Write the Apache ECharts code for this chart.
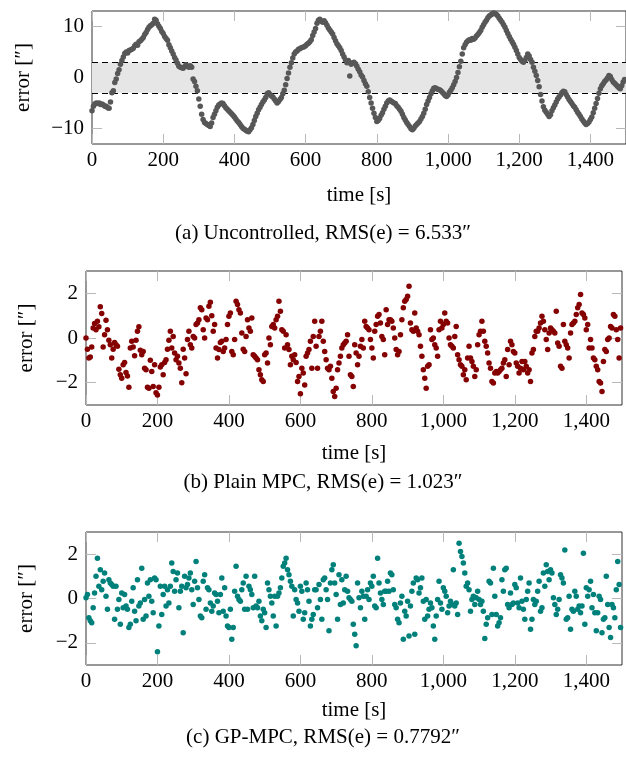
<!DOCTYPE html>
<html>
<head>
<meta charset="utf-8">
<script src="https://cdn.jsdelivr.net/npm/echarts@6/dist/echarts.min.js"></script>
<style>
  html, body { margin: 0; padding: 0; background: #fff; }
  #chart { width: 626px; height: 762px; }
</style>
</head>
<body>
<div id="chart"></div>
<script>
  // sample times [s], shared by the three runs
  const timeS = [
    0,4,8,12,16,20,24,28,32,36,40,44,48,52,56,60,64,68,72,76,
    80,84,88,92,96,100,104,108,112,116,120,124,128,132,136,140,144,148,152,156,
    160,164,168,172,176,180,184,188,192,196,200,204,208,212,216,220,224,228,232,236,
    240,244,248,252,256,260,264,268,272,276,280,284,288,292,296,300,304,308,312,316,
    320,324,328,332,336,340,344,348,352,356,360,364,368,372,376,380,384,388,392,396,
    400,404,408,412,416,420,424,428,432,436,440,444,448,452,456,460,464,468,472,476,
    480,484,488,492,496,500,504,508,512,516,520,524,528,532,536,540,544,548,552,556,
    560,564,568,572,576,580,584,588,592,596,600,604,608,612,616,620,624,628,632,636,
    640,644,648,652,656,660,664,668,672,676,680,684,688,692,696,700,704,708,712,716,
    720,724,728,732,736,740,744,748,752,756,760,764,768,772,776,780,784,788,792,796,
    800,804,808,812,816,820,824,828,832,836,840,844,848,852,856,860,864,868,872,876,
    880,884,888,892,896,900,904,908,912,916,920,924,928,932,936,940,944,948,952,956,
    960,964,968,972,976,980,984,988,992,996,1000,1004,1008,1012,1016,1020,1024,1028,1032,1036,
    1040,1044,1048,1052,1056,1060,1064,1068,1072,1076,1080,1084,1088,1092,1096,1100,1104,1108,1112,1116,
    1120,1124,1128,1132,1136,1140,1144,1148,1152,1156,1160,1164,1168,1172,1176,1180,1184,1188,1192,1196,
    1200,1204,1208,1212,1216,1220,1224,1228,1232,1236,1240,1244,1248,1252,1256,1260,1264,1268,1272,1276,
    1280,1284,1288,1292,1296,1300,1304,1308,1312,1316,1320,1324,1328,1332,1336,1340,1344,1348,1352,1356,
    1360,1364,1368,1372,1376,1380,1384,1388,1392,1396,1400,1404,1408,1412,1416,1420,1424,1428,1432,1436,
    1440,1444,1448,1452,1456,1460,1464,1468,1472,1476,1480,1484,1488,1492,1496
  ];

  // (a) uncontrolled error ["]
  const errUncontrolled = [
    -6.5,-5.6,-5.2,-5.0,-5.1,-5.0,-5.3,-5.2,-5.4,-5.6,
    -5.6,-5.9,-6.0,-4.8,-3.0,-2.6,-1.0,-0.3,0.8,1.5,
    2.6,3.3,4.0,4.7,5.0,4.8,5.3,5.4,5.5,5.7,
    6.2,6.5,6.3,7.0,7.2,7.5,7.8,8.4,8.8,9.4,
    9.8,10.1,10.3,10.6,11.4,11.2,10.5,10.0,9.6,9.0,
    8.6,8.0,7.6,7.3,6.4,5.8,5.2,4.6,3.9,3.4,
    2.8,2.2,2.0,1.9,1.8,2.1,2.5,2.2,2.0,2.3,
    2.0,-0.3,-0.8,-1.7,-2.6,-4.2,-5.6,-7.2,-8.2,-8.8,
    -9.0,-9.2,-9.4,-9.6,-8.9,-7.8,-7.2,-6.5,-5.8,-5.4,
    -5.2,-5.0,-5.1,-5.5,-5.9,-6.2,-6.5,-6.8,-7.1,-7.4,
    -7.7,-8.1,-8.5,-8.8,-9.2,-9.6,-9.9,-10.1,-10.3,-10.5,
    -10.6,-10.2,-9.8,-9.2,-8.4,-7.6,-7.0,-6.3,-5.8,-5.3,
    -4.8,-4.4,-3.9,-3.2,-3.0,-3.3,-3.6,-3.8,-4.2,-4.6,
    -5.0,-4.7,-4.3,-3.9,-3.2,-2.5,-1.4,-0.2,0.9,2.0,
    2.9,3.8,4.6,5.0,5.2,5.5,5.6,5.8,5.9,6.0,
    6.2,6.5,6.7,7.0,7.4,8.2,8.9,9.6,10.6,11.2,
    11.4,11.0,10.8,11.1,10.7,10.2,9.7,9.3,8.9,8.5,
    7.8,7.2,6.6,6.2,5.8,5.3,4.6,4.0,3.4,2.9,
    3.3,0.3,2.6,2.9,3.0,2.7,2.2,1.6,1.1,0.5,
    0.1,-0.6,-1.2,-1.7,-2.8,-3.9,-5.0,-6.0,-7.0,-7.8,
    -8.6,-8.4,-8.0,-7.4,-6.9,-6.2,-5.6,-5.0,-4.6,-4.4,
    -4.6,-4.8,-5.0,-5.1,-5.5,-5.8,-6.2,-6.6,-7.2,-7.8,
    -8.3,-8.8,-9.2,-9.6,-10.0,-10.2,-9.9,-9.5,-9.2,-8.9,
    -8.6,-8.1,-7.6,-7.0,-6.2,-5.3,-4.6,-3.9,-3.2,-2.6,
    -2.1,-2.0,-2.2,-2.3,-2.4,-2.6,-2.9,-3.2,-3.5,-3.7,
    -3.4,-2.9,-2.5,-2.0,-1.4,-0.8,0.0,1.0,2.1,3.2,
    4.6,5.8,6.4,6.9,7.2,7.4,7.3,7.6,7.5,7.7,
    8.1,8.4,8.8,9.2,9.8,10.3,10.8,11.2,11.7,12.0,
    12.2,12.4,12.6,12.5,12.3,12.0,11.6,11.2,10.8,10.3,
    9.8,9.2,8.6,8.0,7.5,7.0,6.5,5.9,5.3,4.6,
    3.9,3.5,3.2,3.0,3.3,3.9,4.6,4.2,3.5,3.0,
    2.0,1.2,0.4,-0.6,-1.8,-3.3,-4.6,-5.7,-6.4,-6.8,
    -7.2,-7.6,-7.3,-6.5,-5.9,-5.4,-4.8,-4.2,-3.8,-3.4,
    -3.0,-2.7,-2.8,-3.3,-3.8,-4.3,-4.7,-5.1,-5.5,-5.8,
    -6.3,-6.8,-7.2,-7.6,-8.1,-8.5,-8.9,-9.2,-9.0,-8.7,
    -8.2,-7.7,-6.9,-6.0,-5.1,-4.1,-3.1,-2.2,-1.6,-1.2,
    -0.8,-0.5,-0.1,0.4,0.2,-0.4,-0.9,-1.1,-1.4,-1.7,
    -2.0,-2.2,-1.6,-0.9,-0.4
  ];

  // (b) plain MPC error ["]
  const errPlainMpc = [
    0.0,-0.5,-0.9,-0.85,-0.4,0.45,0.65,
    0.37,0.75,0.5,1.4,1.1,-0.4,0.15,
    0.8,0.37,-0.1,-0.3,-0.9,-0.5,-0.2,
    -0.3,-0.37,-1.4,-1.65,-1.8,-1.2,-1.1,
    -1.55,-1.7,-2.2,-0.45,-0.15,-0.4,-0.8,
    -0.1,0.3,0.5,-0.55,-0.75,-0.6,-1.35,
    -1.42,-2.2,-2.25,-1.0,-1.5,-2.17,-1.2,
    -2.45,-2.55,-2.2,-1.3,-1.2,-1.65,-1.1,
    -0.97,-0.5,-0.1,0.3,-0.45,0.07,-0.67,
    -0.97,-0.82,-1.12,-1.35,-2.0,-0.5,-0.9,
    -1.6,-0.07,0.3,-0.3,-0.45,0.07,0.0,
    0.6,0.67,0.82,1.35,1.27,0.37,0.0,
    0.9,0.82,1.42,1.6,1.0,0.3,0.6,
    -0.45,-0.9,-0.52,-0.2,-0.15,-0.6,-0.45,
    -0.07,0.6,0.97,1.12,-0.6,-0.75,-0.07,
    1.65,1.5,1.27,1.12,0.22,-0.5,-0.6,
    0.07,0.82,0.45,0.3,0.9,-0.75,-0.82,
    -0.9,-0.97,-1.42,-1.65,-1.87,-1.95,-0.75,
    -0.67,-1.12,0.0,-0.3,0.52,0.6,0.45,
    0.82,0.97,1.65,1.2,0.37,0.3,-0.45,
    0.15,-0.3,-0.52,-1.2,-0.82,-0.97,-0.75,
    -1.1,-1.95,-1.72,-2.5,-1.35,-1.57,-2.1,
    -0.82,-0.67,-0.52,-0.15,-1.35,0.07,0.75,
    -0.37,-1.35,0.07,0.3,0.75,-0.15,
    -0.6,-0.97,-1.35,-1.42,-1.27,-1.8,-2.4,-2.62,-2.25,
    -1.42,-1.12,-0.82,-0.45,-0.3,-0.22,-0.15,0.15,-0.82,
    -1.65,-1.72,-2.17,-0.3,-0.67,-1.2,-0.82,-0.37,-0.07,-0.45,
    0.75,0.52,0.45,0.37,-0.07,-0.45,-0.9,0.3,0.6,
    0.97,1.05,0.67,0.07,-0.07,-0.75,1.27,0.6,0.82,
    0.82,0.75,0.45,0.0,-0.52,-0.75,-0.6,0.15,0.82,
    1.35,1.65,1.72,1.87,2.32,0.67,0.37,0.3,1.12,0.45,
    0.3,0.15,-0.37,-0.82,-1.42,-1.8,-2.25,-1.27,-1.2,
    0.37,-0.07,0.0,-0.3,-0.45,-0.82,0.37,0.75,0.45,0.6,
    1.12,0.75,0.67,0.0,-0.3,-0.37,-0.45,0.07,0.52,
    -0.75,-0.97,-1.2,-1.27,-1.65,-1.42,-1.87,-0.9,-0.37,
    -0.9,-1.05,-1.27,-1.72,-1.42,-0.3,0.15,0.3,0.75,0.3,
    -0.15,-0.37,-0.67,-1.12,-1.35,-1.95,-2.02,-1.57,-1.5,
    -1.57,-1.5,-1.42,-1.35,-1.12,-0.97,-1.72,-0.52,-1.2,
    -0.15,-0.3,-0.6,-0.67,-1.12,-1.27,-1.57,-1.35,-1.05,-1.42,
    -1.05,-1.27,-1.57,-1.42,-1.95,-0.67,-0.52,0.07,0.3,
    0.3,0.45,0.67,0.97,0.75,0.37,-0.07,-0.52,0.22,
    0.45,0.37,0.3,0.22,1.2,-0.22,-0.37,-1.27,-1.35,0.6,
    -0.15,-0.3,-0.45,-0.9,0.22,0.6,0.67,0.75,1.05,
    1.35,1.5,1.95,1.12,1.05,0.9,0.37,0.6,-0.45,
    -0.07,-0.45,-0.9,-0.97,-1.27,-1.42,-1.95,-2.02,-2.4,-1.05,
    -0.52,-0.6,-0.07,0.0,0.52,0.45,1.05,0.97,0.37,-0.07,-0.9,0.45
  ];

  // (c) GP-MPC error ["]
  const errGpMpc = [
    0.03,0.18,-0.87,-1.0,-1.09,-0.42,0.25,
    1.0,1.82,0.55,1.3,0.4,0.78,1.15,
    0.1,-0.49,0.85,0.7,0.63,0.55,-0.94,
    0.55,-0.49,-0.05,-1.16,0.25,-0.42,0.18,
    -0.34,-0.49,-1.31,-1.16,-0.12,0.48,-0.57,
    -1.0,0.85,-0.34,-0.2,1.37,-0.94,-0.05,
    -0.79,0.7,0.1,0.85,-0.12,-0.64,0.93,
    0.85,-2.4,-1.24,0.55,-0.72,0.18,0.55,
    -0.34,0.4,-0.2,0.55,1.6,1.22,0.33,
    0.85,1.15,-0.42,0.33,0.55,-1.54,1.0,
    0.48,0.63,0.93,1.15,0.4,-0.27,0.78,
    1.67,0.48,-0.05,-0.79,-0.87,0.78,1.07,
    -0.49,0.48,0.4,-0.2,-0.57,-0.34,0.25,
    0.18,-0.12,-0.64,0.18,0.93,-0.57,0.48,
    -0.79,-1.24,-1.31,-0.49,-1.84,-1.31,0.33,
    1.45,0.1,-0.05,-0.12,0.4,0.7,-0.49,
    1.0,-0.49,0.55,0.4,0.18,-0.42,1.0,
    -0.34,-0.42,-0.12,-0.79,-1.0,-0.49,-0.64,
    -1.31,0.7,0.4,0.1,-0.2,-0.79,0.1,
    -1.24,0.1,0.25,0.48,0.93,1.45,1.6,
    1.82,1.3,1.07,0.78,0.55,-0.79,0.4,
    -0.05,-0.2,-0.57,0.55,0.33,-0.94,-0.64,
    0.7,0.4,-0.12,-1.24,-0.94,-0.72,0.4,
    0.4,-0.42,0.63,-0.05,-0.94,0.85,
    0.93,0.4,-0.05,-1.46,0.7,1.3,1.52,0.7,0.18,
    -0.94,1.07,-0.27,0.85,-0.2,0.4,1.0,0.33,0.03,
    -0.05,-0.12,-1.16,-1.61,-2.13,0.7,0.03,-0.42,0.33,0.1,
    -0.94,0.1,0.4,-0.05,0.7,0.55,1.0,-0.34,-0.42,
    1.82,0.7,0.25,-0.05,-0.27,0.33,0.33,0.78,0.33,
    1.15,1.07,0.4,-0.27,-0.42,-0.94,-1.09,-0.2,0.1,
    -1.84,-0.57,-0.79,-0.12,-1.69,-0.34,0.33,0.7,-1.61,0.93,
    0.85,0.25,0.48,0.93,-0.12,-0.94,-0.05,-0.79,-0.49,
    -0.2,-0.42,-1.24,-1.84,-0.79,-0.05,0.78,-0.2,-0.49,0.48,
    0.33,0.1,-0.64,-0.34,-0.12,-0.27,1.3,-0.34,-0.2,
    -0.72,2.49,2.12,1.9,1.6,1.15,0.55,0.7,0.4,
    -0.57,-0.05,0.1,-0.27,0.03,0.33,-0.05,-0.27,-0.12,-0.57,
    -1.8,-1.16,-0.87,0.78,0.7,-0.72,1.37,0.1,-0.72,
    -1.24,-1.09,-0.87,0.85,0.33,1.3,1.37,-0.27,-0.42,
    0.25,-0.27,-0.2,0.63,0.48,-0.2,-0.42,0.93,-0.12,-0.49,
    -0.94,-0.05,0.33,0.7,-1.39,-0.94,-0.05,-0.27,-0.12,
    0.33,0.78,-0.57,-0.42,1.15,0.55,1.52,1.22,0.85,
    1.3,1.15,0.03,-0.27,-0.72,-0.49,-0.05,1.07,0.93,0.7,
    2.19,-0.94,-0.87,0.1,-1.39,-0.49,-0.57,0.33,0.1,
    -0.49,-0.34,-0.64,-0.34,2.04,-1.16,0.48,0.1,0.4,
    0.78,-0.42,0.18,-0.64,-1.46,-0.64,0.1,-0.05,-1.54,-0.94,
    -0.87,1.0,-0.27,-1.31,-1.76,-0.27,-0.42,-0.87,0.4,1.67,0.63,-1.31
  ];

  const timeTicks = [0, 200, 400, 600, 800, 1000, 1200, 1400];
  const ticksUncontrolled = [-10, 0, 10];
  const ticksMpc = [-2, 0, 2];
  const toleranceBand = [-3, 3];
  const captions = [
    '(a) Uncontrolled, RMS(e) = 6.533\u2033',
    '(b) Plain MPC, RMS(e) = 1.023\u2033',
    '(c) GP-MPC, RMS(e) = 0.7792\u2033'
  ];

  const font = '"Liberation Serif", "Times New Roman", serif';
  const panels = [
    { top: 11, left: 92, height: 133, yMin: -13, yMax: 13, yTicks: ticksUncontrolled,
      data: errUncontrolled, color: '#575757', xNameGap: 41, yNameGap: 58, captionTop: 218 },
    { top: 271, left: 86, height: 134, yMin: -3, yMax: 3, yTicks: ticksMpc,
      data: errPlainMpc, color: '#850000', xNameGap: 38, yNameGap: 49, captionTop: 467 },
    { top: 532, left: 86, height: 133, yMin: -3, yMax: 3, yTicks: ticksMpc,
      data: errGpMpc, color: '#00807a', xNameGap: 35, yNameGap: 49, captionTop: 722 }
  ];

  const tickStyle = { inside: true, length: 10, lineStyle: { color: '#b8b8b8', width: 1 } };
  const labelStyle = { fontFamily: font, fontSize: 21, color: '#000' };
  const minus = v => String(v).replace('-', '\u2212');

  let grid = [], xAxis = [], yAxis = [], series = [], title = [];
  panels.forEach((p, i) => {
    grid.push({ left: p.left, top: p.top, width: 536, height: p.height,
      show: true, borderColor: '#303030', borderWidth: 1, backgroundColor: 'transparent' });

    // bottom + top time axes
    xAxis.push({
      gridIndex: i, type: 'value', min: 0, max: 1500, position: 'bottom',
      axisLine: { show: false, onZero: false }, splitLine: { show: false },
      axisTick: Object.assign({ customValues: timeTicks }, tickStyle),
      axisLabel: Object.assign({ customValues: timeTicks, margin: 6,
        formatter: v => v.toLocaleString('en-US') }, labelStyle),
      name: 'time [s]', nameLocation: 'middle', nameGap: p.xNameGap,
      nameTextStyle: labelStyle
    });
    xAxis.push({
      gridIndex: i, type: 'value', min: 0, max: 1500, position: 'top',
      axisLine: { show: false, onZero: false }, splitLine: { show: false },
      axisTick: Object.assign({ customValues: timeTicks }, tickStyle),
      axisLabel: { show: false }
    });

    // left + right error axes
    yAxis.push({
      gridIndex: i, type: 'value', min: p.yMin, max: p.yMax, position: 'left',
      axisLine: { show: false, onZero: false }, splitLine: { show: false },
      axisTick: Object.assign({ customValues: p.yTicks }, tickStyle),
      axisLabel: Object.assign({ customValues: p.yTicks, margin: 8, formatter: minus }, labelStyle),
      name: 'error [\u2033]', nameLocation: 'middle', nameRotate: 90, nameGap: p.yNameGap,
      nameTextStyle: labelStyle
    });
    yAxis.push({
      gridIndex: i, type: 'value', min: p.yMin, max: p.yMax, position: 'right',
      axisLine: { show: false, onZero: false }, splitLine: { show: false },
      axisTick: Object.assign({ customValues: p.yTicks }, tickStyle),
      axisLabel: { show: false }
    });

    if (i === 0) {
      // shaded tolerance band with dashed limits
      series.push({
        type: 'line', xAxisIndex: 0, yAxisIndex: 0, data: [], z: 1, silent: true,
        markArea: { silent: true, itemStyle: { color: '#e6e6e6' },
          data: [[{ yAxis: toleranceBand[0] }, { yAxis: toleranceBand[1] }]] },
        markLine: { silent: true, symbol: 'none', label: { show: false },
          lineStyle: { color: '#000', type: [6, 4], width: 1 },
          data: toleranceBand.map(v => ({ yAxis: v })) }
      });
    }

    series.push({
      type: 'scatter', xAxisIndex: 2 * i, yAxisIndex: 2 * i, z: 5,
      symbolSize: 5.5, itemStyle: { color: p.color, opacity: 1 },
      data: timeS.map((t, k) => [t, p.data[k]]).filter(d => d[1] !== undefined)
    });

    title.push({ text: captions[i], left: 318, top: p.captionTop, textAlign: 'center',
      textStyle: { fontFamily: font, fontSize: 21, fontWeight: 'normal', color: '#000' } });
  });

  const chart = echarts.init(document.getElementById('chart'), null, { renderer: 'canvas' });
  chart.setOption({
    animation: false,
    backgroundColor: '#fff',
    title, grid, xAxis, yAxis, series
  });
</script>
</body>
</html>
